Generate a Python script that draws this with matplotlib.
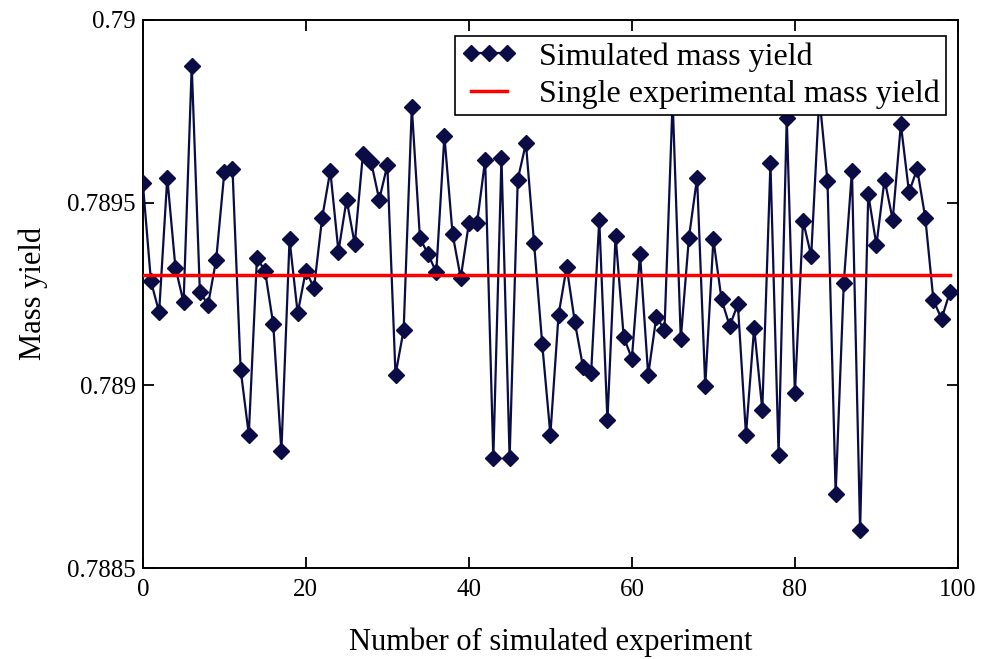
import matplotlib

matplotlib.use("Agg")
import matplotlib.pyplot as plt

experiment = list(range(100))
mass_yield = [
    0.789553, 0.789284, 0.789200, 0.789568, 0.789322, 0.789227, 0.789874, 0.789256, 0.789220, 0.789344,
    0.789583, 0.789592, 0.789043, 0.788865, 0.789349, 0.789312, 0.789167, 0.788820, 0.789399, 0.789197,
    0.789314, 0.789266, 0.789458, 0.789587, 0.789366, 0.789508, 0.789386, 0.789632, 0.789612, 0.789508,
    0.789602, 0.789029, 0.789152, 0.789761, 0.789402, 0.789359, 0.789309, 0.789682, 0.789414, 0.789294,
    0.789443, 0.789443, 0.789617, 0.788800, 0.789622, 0.788800, 0.789563, 0.789662, 0.789389, 0.789113,
    0.788865, 0.789192, 0.789324, 0.789173, 0.789051, 0.789034, 0.789453, 0.788904, 0.789409, 0.789132,
    0.789073, 0.789359, 0.789028, 0.789187, 0.789152, 0.789780, 0.789127, 0.789404, 0.789568, 0.788998,
    0.789399, 0.789235, 0.789162, 0.789222, 0.788865, 0.789158, 0.788933, 0.789607, 0.788810, 0.789732,
    0.788978, 0.789450, 0.789354, 0.789790, 0.789558, 0.788703, 0.789281, 0.789587, 0.788603, 0.789523,
    0.789384, 0.789563, 0.789453, 0.789714, 0.789528, 0.789592, 0.789458, 0.789232, 0.789182, 0.789254,
]
experimental_yield = 0.789303

plt.rcParams["font.family"] = ["Liberation Serif", "DejaVu Serif"]

fig = plt.figure(figsize=(9.85, 6.59), dpi=100)
ax = fig.add_axes([0.145, 0.138, 0.8275, 0.832])

ax.plot(experiment, mass_yield, color="#0b0b45", linewidth=1.6, marker="D",
        markersize=8, label="Simulated mass yield", zorder=3)
ax.plot([experiment[0], experiment[-1]], [experimental_yield, experimental_yield],
        color="#ff0000", linewidth=2.5, label="Single experimental mass yield", zorder=4)

ax.set_xlim(0, 100)
ax.set_ylim(0.7885, 0.79)
ax.set_xticks([0, 20, 40, 60, 80, 100])
ax.set_yticks([0.7885, 0.789, 0.7895, 0.79])
ax.set_yticklabels(["0.7885", "0.789", "0.7895", "0.79"])
ax.tick_params(direction="in", length=8, width=1.3, top=True, right=True,
               labelsize=18)
ax.tick_params(axis="x", pad=8)
ax.tick_params(axis="y", pad=5)
for spine in ax.spines.values():
    spine.set_linewidth(1.4)

ax.set_xlabel("Number of simulated experiment", fontsize=22, labelpad=19)
ax.set_ylabel("Mass yield", fontsize=22, labelpad=14)

leg = ax.legend(loc="upper right", bbox_to_anchor=(0.985, 0.971), borderaxespad=0,
                fontsize=23, numpoints=3, handlelength=1.7, fancybox=False,
                edgecolor="black", framealpha=1, borderpad=0.2, labelspacing=0.25,
                handletextpad=0.7)
leg.get_frame().set_linewidth(1.2)

fig.savefig("out.png", dpi=100)
